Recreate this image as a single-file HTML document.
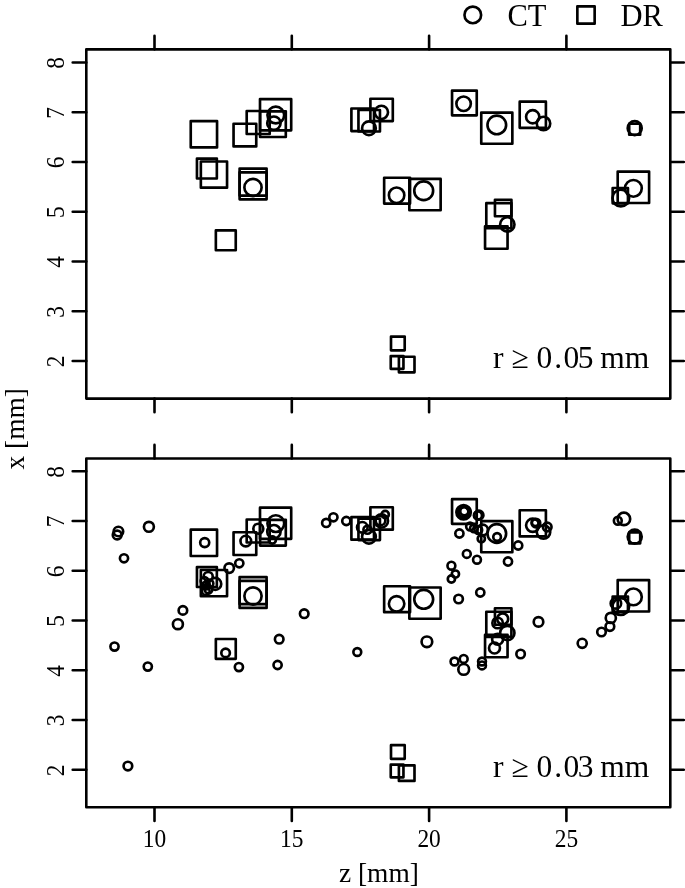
<!DOCTYPE html>
<html><head><meta charset="utf-8"><title>plot</title>
<style>html,body{margin:0;padding:0;background:#fff}svg{display:block}rect{stroke-width:2.65px}circle{stroke-width:2.65px}rect.f{stroke-width:2.6px}</style>
</head><body>
<svg width="685" height="888" viewBox="0 0 685 888">
<rect width="685" height="888" fill="#fff"/>
<g>
<g fill="none" stroke="#000" stroke-width="2.6" stroke-linejoin="round" stroke-linecap="round">
<rect class="f" x="86.3" y="49.35" width="584.00" height="349.25"/>
<rect class="f" x="86.3" y="458.50" width="584.00" height="348.80"/>
<path d="M154.50 49.35v-13.6M154.50 398.6v13.6M154.50 458.50v-13.6M154.50 807.30v13.6M291.80 49.35v-13.6M291.80 398.6v13.6M291.80 458.50v-13.6M291.80 807.30v13.6M429.10 49.35v-13.6M429.10 398.6v13.6M429.10 458.50v-13.6M429.10 807.30v13.6M566.40 49.35v-13.6M566.40 398.6v13.6M566.40 458.50v-13.6M566.40 807.30v13.6M86.3 361.00h-13.6M670.3 361.00h13.6M86.3 769.80h-13.6M670.3 769.80h13.6M86.3 311.25h-13.6M670.3 311.25h13.6M86.3 720.05h-13.6M670.3 720.05h13.6M86.3 261.50h-13.6M670.3 261.50h13.6M86.3 670.30h-13.6M670.3 670.30h13.6M86.3 211.75h-13.6M670.3 211.75h13.6M86.3 620.55h-13.6M670.3 620.55h13.6M86.3 162.00h-13.6M670.3 162.00h13.6M86.3 570.80h-13.6M670.3 570.80h13.6M86.3 112.25h-13.6M670.3 112.25h13.6M86.3 521.05h-13.6M670.3 521.05h13.6M86.3 62.50h-13.6M670.3 62.50h13.6M86.3 471.30h-13.6M670.3 471.30h13.6"/>
<circle cx="472.80" cy="14.90" r="8.33"/>
<rect x="577.35" y="6.35" width="17.30" height="17.30"/>
<rect x="190.75" y="121.10" width="26.30" height="26.30"/>
<rect x="233.55" y="123.70" width="22.70" height="22.70"/>
<rect x="246.70" y="110.95" width="23.00" height="23.00"/>
<rect x="260.00" y="99.10" width="31.20" height="31.20"/>
<rect x="260.10" y="111.30" width="25.70" height="25.70"/>
<rect x="196.95" y="158.55" width="19.90" height="19.90"/>
<rect x="200.85" y="161.45" width="26.20" height="26.20"/>
<rect x="239.60" y="168.55" width="27.00" height="27.00"/>
<rect x="239.60" y="172.35" width="27.00" height="27.00"/>
<rect x="215.85" y="230.40" width="19.90" height="19.90"/>
<rect x="370.40" y="98.70" width="22.40" height="22.40"/>
<rect x="351.40" y="108.50" width="22.60" height="22.60"/>
<rect x="358.45" y="110.00" width="21.50" height="21.50"/>
<rect x="452.05" y="90.60" width="24.70" height="24.70"/>
<rect x="481.25" y="112.60" width="31.10" height="31.10"/>
<rect x="519.70" y="101.65" width="26.20" height="26.20"/>
<rect x="617.70" y="171.55" width="31.40" height="31.40"/>
<rect x="612.65" y="188.00" width="15.30" height="15.30"/>
<rect x="384.15" y="177.70" width="25.90" height="25.90"/>
<rect x="409.35" y="178.90" width="31.30" height="31.30"/>
<rect x="494.95" y="199.70" width="16.50" height="16.50"/>
<rect x="486.30" y="203.15" width="25.10" height="25.10"/>
<rect x="485.05" y="226.20" width="22.50" height="22.50"/>
<rect x="391.00" y="336.60" width="13.70" height="13.70"/>
<rect x="390.75" y="356.10" width="12.70" height="12.70"/>
<rect x="398.90" y="356.75" width="15.60" height="15.60"/>
<rect x="629.20" y="123.75" width="11.00" height="11.00"/>
<circle cx="275.80" cy="115.05" r="8.38"/>
<circle cx="273.90" cy="123.15" r="6.67"/>
<circle cx="253.00" cy="187.45" r="8.62"/>
<circle cx="381.40" cy="112.35" r="6.62"/>
<circle cx="368.95" cy="128.25" r="6.87"/>
<circle cx="396.60" cy="195.25" r="7.72"/>
<circle cx="423.70" cy="190.75" r="9.43"/>
<circle cx="463.60" cy="103.75" r="7.22"/>
<circle cx="496.80" cy="124.95" r="9.33"/>
<circle cx="532.70" cy="116.75" r="6.62"/>
<circle cx="543.50" cy="123.45" r="6.73"/>
<circle cx="507.30" cy="224.45" r="7.17"/>
<circle cx="634.70" cy="128.15" r="7.02"/>
<circle cx="633.40" cy="188.35" r="8.38"/>
<circle cx="620.80" cy="198.05" r="8.33"/>
<rect x="190.75" y="529.65" width="26.30" height="26.30"/>
<rect x="233.55" y="532.25" width="22.70" height="22.70"/>
<rect x="246.70" y="519.50" width="23.00" height="23.00"/>
<rect x="260.00" y="507.65" width="31.20" height="31.20"/>
<rect x="260.10" y="519.85" width="25.70" height="25.70"/>
<rect x="196.95" y="567.10" width="19.90" height="19.90"/>
<rect x="200.85" y="570.00" width="26.20" height="26.20"/>
<rect x="239.60" y="577.10" width="27.00" height="27.00"/>
<rect x="239.60" y="580.90" width="27.00" height="27.00"/>
<rect x="215.85" y="638.95" width="19.90" height="19.90"/>
<rect x="370.40" y="507.25" width="22.40" height="22.40"/>
<rect x="351.40" y="517.05" width="22.60" height="22.60"/>
<rect x="358.45" y="518.55" width="21.50" height="21.50"/>
<rect x="452.05" y="499.15" width="24.70" height="24.70"/>
<rect x="481.25" y="521.15" width="31.10" height="31.10"/>
<rect x="519.70" y="510.20" width="26.20" height="26.20"/>
<rect x="617.70" y="580.10" width="31.40" height="31.40"/>
<rect x="612.65" y="596.55" width="15.30" height="15.30"/>
<rect x="384.15" y="586.25" width="25.90" height="25.90"/>
<rect x="409.35" y="587.45" width="31.30" height="31.30"/>
<rect x="494.95" y="608.25" width="16.50" height="16.50"/>
<rect x="486.30" y="611.70" width="25.10" height="25.10"/>
<rect x="485.05" y="634.75" width="22.50" height="22.50"/>
<rect x="391.00" y="745.15" width="13.70" height="13.70"/>
<rect x="390.75" y="764.65" width="12.70" height="12.70"/>
<rect x="398.90" y="765.30" width="15.60" height="15.60"/>
<rect x="629.20" y="532.30" width="11.00" height="11.00"/>
<circle cx="275.80" cy="523.60" r="8.38"/>
<circle cx="273.90" cy="531.70" r="6.67"/>
<circle cx="253.00" cy="596.00" r="8.62"/>
<circle cx="381.40" cy="520.90" r="6.62"/>
<circle cx="368.95" cy="536.80" r="6.87"/>
<circle cx="396.60" cy="603.80" r="7.72"/>
<circle cx="423.70" cy="599.30" r="9.43"/>
<circle cx="463.60" cy="512.30" r="7.22"/>
<circle cx="496.80" cy="533.50" r="9.33"/>
<circle cx="532.70" cy="525.30" r="6.62"/>
<circle cx="543.50" cy="532.00" r="6.73"/>
<circle cx="507.30" cy="633.00" r="7.17"/>
<circle cx="634.70" cy="536.70" r="7.02"/>
<circle cx="633.40" cy="596.90" r="8.38"/>
<circle cx="620.80" cy="606.60" r="8.33"/>
<circle cx="118.40" cy="531.50" r="4.78"/>
<circle cx="117.20" cy="535.00" r="4.42"/>
<circle cx="148.90" cy="526.80" r="4.98"/>
<circle cx="124.00" cy="558.30" r="4.08"/>
<circle cx="182.90" cy="610.40" r="4.28"/>
<circle cx="177.90" cy="624.20" r="4.98"/>
<circle cx="114.50" cy="646.60" r="4.08"/>
<circle cx="147.80" cy="666.60" r="4.08"/>
<circle cx="127.90" cy="766.10" r="4.33"/>
<circle cx="204.70" cy="542.60" r="4.53"/>
<circle cx="245.80" cy="541.10" r="5.33"/>
<circle cx="258.30" cy="528.70" r="4.98"/>
<circle cx="272.30" cy="540.00" r="3.58"/>
<circle cx="229.20" cy="568.10" r="4.73"/>
<circle cx="239.30" cy="563.30" r="4.08"/>
<circle cx="215.20" cy="583.90" r="6.03"/>
<circle cx="208.20" cy="576.50" r="4.53"/>
<circle cx="204.50" cy="581.00" r="3.83"/>
<circle cx="206.00" cy="585.50" r="3.83"/>
<circle cx="208.50" cy="589.50" r="3.83"/>
<circle cx="205.80" cy="591.20" r="3.83"/>
<circle cx="209.50" cy="583.50" r="3.83"/>
<circle cx="225.60" cy="652.90" r="4.28"/>
<circle cx="238.90" cy="667.10" r="4.08"/>
<circle cx="279.20" cy="639.20" r="4.28"/>
<circle cx="277.60" cy="665.00" r="4.08"/>
<circle cx="304.20" cy="613.70" r="4.28"/>
<circle cx="326.20" cy="522.90" r="4.08"/>
<circle cx="333.40" cy="517.30" r="4.08"/>
<circle cx="346.30" cy="521.00" r="4.08"/>
<circle cx="362.30" cy="527.30" r="5.28"/>
<circle cx="367.50" cy="529.70" r="4.08"/>
<circle cx="385.20" cy="514.50" r="3.62"/>
<circle cx="380.50" cy="520.50" r="4.83"/>
<circle cx="357.30" cy="652.00" r="3.92"/>
<circle cx="426.90" cy="641.80" r="5.33"/>
<circle cx="463.90" cy="511.70" r="5.33"/>
<circle cx="464.30" cy="511.20" r="4.03"/>
<circle cx="463.00" cy="512.60" r="5.83"/>
<circle cx="478.90" cy="515.20" r="4.53"/>
<circle cx="477.90" cy="515.40" r="4.03"/>
<circle cx="470.00" cy="526.50" r="3.83"/>
<circle cx="473.90" cy="528.30" r="3.83"/>
<circle cx="478.30" cy="530.00" r="3.83"/>
<circle cx="482.60" cy="530.00" r="5.33"/>
<circle cx="459.40" cy="533.50" r="4.08"/>
<circle cx="481.30" cy="538.80" r="3.62"/>
<circle cx="497.10" cy="537.00" r="3.83"/>
<circle cx="518.20" cy="545.50" r="4.08"/>
<circle cx="508.00" cy="561.50" r="4.08"/>
<circle cx="466.80" cy="553.90" r="3.92"/>
<circle cx="477.00" cy="559.70" r="3.92"/>
<circle cx="451.40" cy="565.70" r="3.92"/>
<circle cx="455.40" cy="574.10" r="3.62"/>
<circle cx="451.40" cy="579.00" r="3.62"/>
<circle cx="480.30" cy="592.50" r="4.08"/>
<circle cx="458.60" cy="599.00" r="4.28"/>
<circle cx="535.90" cy="523.10" r="4.33"/>
<circle cx="535.30" cy="522.70" r="3.42"/>
<circle cx="547.20" cy="527.00" r="4.33"/>
<circle cx="617.80" cy="520.70" r="3.92"/>
<circle cx="623.90" cy="518.90" r="6.28"/>
<circle cx="615.90" cy="603.40" r="5.23"/>
<circle cx="610.80" cy="617.90" r="5.08"/>
<circle cx="609.90" cy="626.60" r="4.33"/>
<circle cx="601.50" cy="632.00" r="4.28"/>
<circle cx="582.20" cy="643.30" r="4.53"/>
<circle cx="538.50" cy="621.90" r="4.78"/>
<circle cx="520.60" cy="654.00" r="4.23"/>
<circle cx="454.50" cy="661.50" r="3.92"/>
<circle cx="463.70" cy="658.90" r="3.92"/>
<circle cx="463.70" cy="669.40" r="5.38"/>
<circle cx="482.00" cy="661.50" r="3.92"/>
<circle cx="482.00" cy="665.40" r="3.92"/>
<circle cx="502.70" cy="618.90" r="5.48"/>
<circle cx="497.60" cy="623.00" r="5.23"/>
<circle cx="497.60" cy="639.30" r="5.48"/>
<circle cx="494.50" cy="648.00" r="5.48"/>
</g>
<g font-family="'Liberation Serif', 'DejaVu Serif', serif" fill="#000">
<text x="507.4" y="25.6" font-size="30.5">CT</text>
<text x="620.6" y="25.6" font-size="30.5">DR</text>
<text x="571.2" y="367.8" font-size="31.5" text-anchor="middle">r ≥ 0<tspan dx="1.9">.</tspan><tspan dx="1.4">0</tspan><tspan dx="-1.6">5</tspan><tspan dx="-1"> </tspan>mm</text>
<text x="571.2" y="776.6" font-size="31.5" text-anchor="middle">r ≥ 0<tspan dx="1.9">.</tspan><tspan dx="1.4">0</tspan><tspan dx="-1.6">3</tspan><tspan dx="-1"> </tspan>mm</text>
<text transform="translate(154.5 846.5) scale(.96 1)" font-size="24.4" text-anchor="middle">10</text>
<text transform="translate(291.8 846.5) scale(.96 1)" font-size="24.4" text-anchor="middle">15</text>
<text transform="translate(429.1 846.5) scale(.96 1)" font-size="24.4" text-anchor="middle">20</text>
<text transform="translate(566.4 846.5) scale(.96 1)" font-size="24.4" text-anchor="middle">25</text>
<text transform="translate(63.8 361.5) rotate(-90) scale(.96 1)" font-size="24.4" text-anchor="middle">2</text>
<text transform="translate(63.8 770.3) rotate(-90) scale(.96 1)" font-size="24.4" text-anchor="middle">2</text>
<text transform="translate(63.8 311.8) rotate(-90) scale(.96 1)" font-size="24.4" text-anchor="middle">3</text>
<text transform="translate(63.8 720.5) rotate(-90) scale(.96 1)" font-size="24.4" text-anchor="middle">3</text>
<text transform="translate(63.8 262.0) rotate(-90) scale(.96 1)" font-size="24.4" text-anchor="middle">4</text>
<text transform="translate(63.8 670.8) rotate(-90) scale(.96 1)" font-size="24.4" text-anchor="middle">4</text>
<text transform="translate(63.8 212.2) rotate(-90) scale(.96 1)" font-size="24.4" text-anchor="middle">5</text>
<text transform="translate(63.8 621.0) rotate(-90) scale(.96 1)" font-size="24.4" text-anchor="middle">5</text>
<text transform="translate(63.8 162.5) rotate(-90) scale(.96 1)" font-size="24.4" text-anchor="middle">6</text>
<text transform="translate(63.8 571.3) rotate(-90) scale(.96 1)" font-size="24.4" text-anchor="middle">6</text>
<text transform="translate(63.8 112.8) rotate(-90) scale(.96 1)" font-size="24.4" text-anchor="middle">7</text>
<text transform="translate(63.8 521.5) rotate(-90) scale(.96 1)" font-size="24.4" text-anchor="middle">7</text>
<text transform="translate(63.8 63.0) rotate(-90) scale(.96 1)" font-size="24.4" text-anchor="middle">8</text>
<text transform="translate(63.8 471.8) rotate(-90) scale(.96 1)" font-size="24.4" text-anchor="middle">8</text>
<text x="378.9" y="881.8" font-size="27.4" text-anchor="middle">z [mm]</text>
<text transform="translate(23.7 428.8) rotate(-90)" font-size="27.4" text-anchor="middle">x [mm]</text>
</g>
</g>
</svg>
</body></html>
